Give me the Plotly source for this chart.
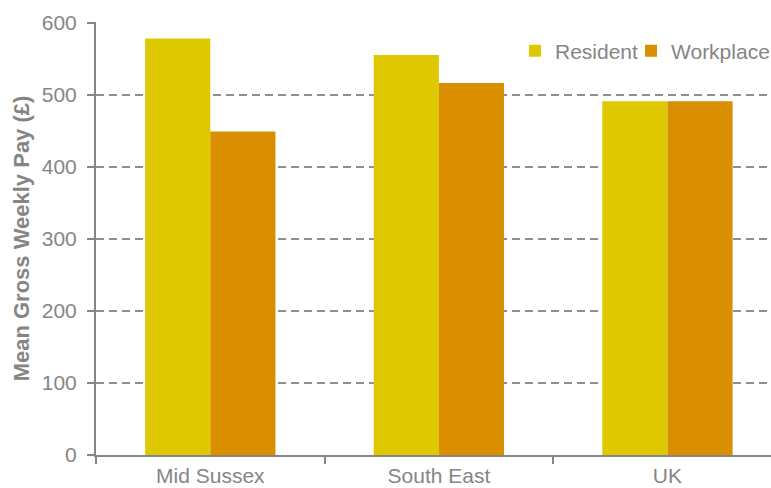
import plotly.graph_objects as go

categories = ["Mid Sussex", "South East", "UK"]
resident = [578, 555, 491]
workplace = [449, 516, 491]
series_names = ["Resident", "Workplace"]
colors = ["#DEC800", "#D98F00"]
legend_ids = ["legend", "legend2"]

grey = "#858585"
fig = go.Figure()
for name, vals, c, lg in zip(series_names, [resident, workplace], colors, legend_ids):
    fig.add_trace(go.Bar(x=categories, y=vals, name=name, legend=lg,
                         marker=dict(color=c, line=dict(width=0))))

legend_style = dict(orientation="h", xanchor="left", y=0.933, yanchor="middle",
                    font=dict(size=21, color=grey), bgcolor="rgba(0,0,0,0)", itemwidth=30)

fig.update_layout(
    width=771, height=488,
    margin=dict(l=96, r=0, t=22, b=33, autoexpand=False),
    paper_bgcolor="white", plot_bgcolor="white",
    barmode="group", bargap=0.43, bargroupgap=0,
    font=dict(family="Liberation Sans, Arial, sans-serif", color=grey, size=21),
    showlegend=True,
    legend=dict(x=0.6207, **legend_style),
    legend2=dict(x=0.7926, **legend_style),
    xaxis=dict(range=[-0.5, 2.453], showline=True, linecolor=grey, linewidth=2,
               ticks="outside", tickson="boundaries", ticklen=7, tickcolor=grey, tickwidth=2,
               ticklabelstandoff=1,
               tickfont=dict(size=21, color=grey), showgrid=False, automargin=False),
    yaxis=dict(range=[0, 600.8], tickvals=[0, 100, 200, 300, 400, 500, 600],
               showline=True, linecolor=grey, linewidth=2,
               ticks="outside", ticklen=7, tickcolor=grey, tickwidth=2, ticklabelstandoff=6,
               showgrid=True, gridcolor="#8f8f8f", griddash="8px,5px", gridwidth=2,
               tickfont=dict(size=21, color=grey), zeroline=False, automargin=False,
               title=dict(text="<b>Mean Gross Weekly Pay (£)</b>", font=dict(size=22, color=grey), standoff=6)),
)
fig.write_html("out.html", config={"displayModeBar": False},
               post_script="document.body.style.margin='0';")
